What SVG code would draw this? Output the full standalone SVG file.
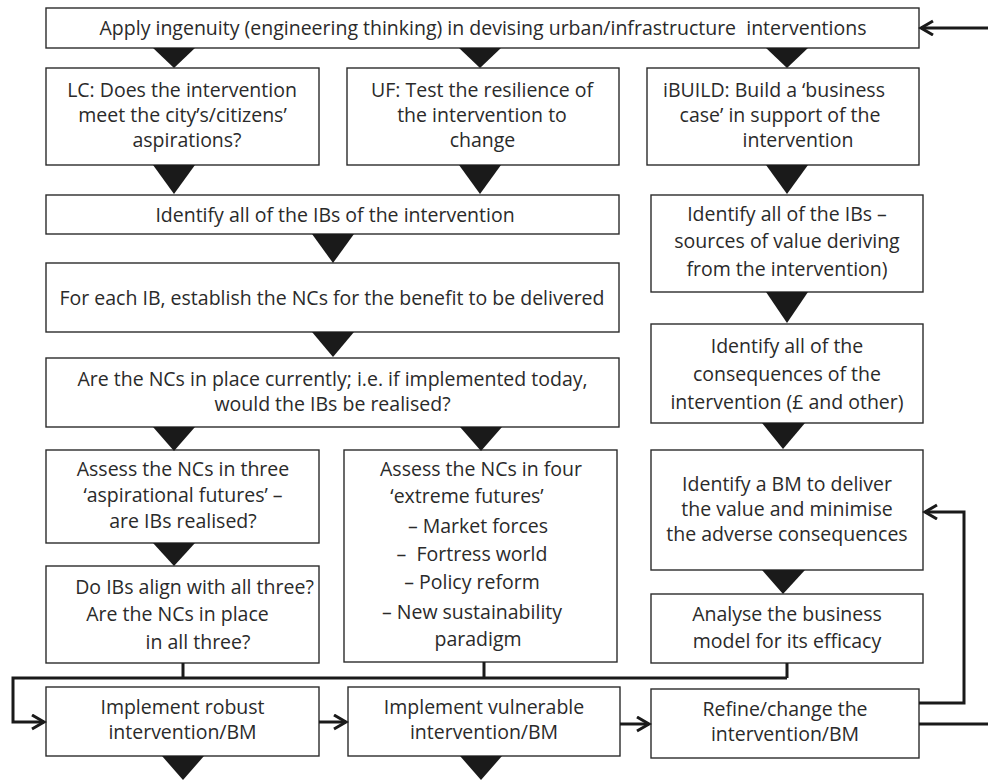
<svg xmlns="http://www.w3.org/2000/svg" width="988" height="780" viewBox="0 0 988 780">
<defs>
<style>
.b{fill:#fff;stroke:#2b2b2b;stroke-width:1.4}
.t{font-family:"Open Sans","Liberation Sans",sans-serif;font-size:19.5px;fill:#2a2a2a;text-anchor:middle}
.tri{fill:#1a1a1a}
.c{fill:none;stroke:#1a1a1a;stroke-width:3}
</style>
<marker id="ah" markerUnits="userSpaceOnUse" markerWidth="16" markerHeight="18" refX="13" refY="8" orient="auto">
<path d="M1,1 L13,8 L1,15" fill="none" stroke="#1a1a1a" stroke-width="3"/>
</marker>
</defs>
<rect width="988" height="780" fill="#fff"/>

<g id="n-top"><rect class="b" x="46" y="8" width="873" height="40"/>
<text class="t" x="483" y="35" xml:space="preserve">Apply ingenuity (engineering thinking) in devising urban/infrastructure  interventions</text></g>

<g id="n-lc"><rect class="b" x="46" y="68" width="273" height="97"/>
<text class="t" x="182" y="97">LC: Does the intervention</text>
<text class="t" x="182.5" y="122">meet the city’s/citizens’</text>
<text class="t" x="187" y="147">aspirations?</text></g>

<g id="n-uf"><rect class="b" x="347" y="68" width="272" height="97"/>
<text class="t" x="482" y="97">UF: Test the resilience of</text>
<text class="t" x="482" y="122">the intervention to</text>
<text class="t" x="482.5" y="147">change</text></g>

<g id="n-ibuild"><rect class="b" x="647" y="68" width="272" height="97"/>
<text class="t" x="774" y="97">iBUILD: Build a ‘business</text>
<text class="t" x="780" y="122">case’ in support of the</text>
<text class="t" x="798" y="147">intervention</text></g>

<g id="n-ibs"><rect class="b" x="46" y="195" width="573" height="39"/>
<text class="t" x="335" y="222">Identify all of the IBs of the intervention</text></g>

<g id="n-nc"><rect class="b" x="46" y="263" width="573" height="69"/>
<text class="t" x="332" y="305">For each IB, establish the NCs for the benefit to be delivered</text></g>

<g id="n-place"><rect class="b" x="46" y="358" width="573" height="69"/>
<text class="t" x="332.5" y="386">Are the NCs in place currently; i.e. if implemented today,</text>
<text class="t" x="332.5" y="411">would the IBs be realised?</text></g>

<g id="n-sources"><rect class="b" x="651" y="195" width="272" height="97"/>
<text class="t" x="787" y="221">Identify all of the IBs –</text>
<text class="t" x="787" y="248">sources of value deriving</text>
<text class="t" x="787" y="276">from the intervention)</text></g>

<g id="n-conseq"><rect class="b" x="651" y="324" width="272" height="99"/>
<text class="t" x="787" y="353">Identify all of the</text>
<text class="t" x="787" y="381">consequences of the</text>
<text class="t" x="787" y="409">intervention (£ and other)</text></g>

<g id="n-bm"><rect class="b" x="651" y="450" width="272" height="120"/>
<text class="t" x="787" y="491">Identify a BM to deliver</text>
<text class="t" x="787" y="516">the value and minimise</text>
<text class="t" x="787" y="541">the adverse consequences</text></g>

<g id="n-analyse"><rect class="b" x="651" y="594" width="272" height="69"/>
<text class="t" x="787" y="621">Analyse the business</text>
<text class="t" x="787" y="648">model for its efficacy</text></g>

<g id="n-three"><rect class="b" x="46" y="450" width="273" height="93"/>
<text class="t" x="183" y="476">Assess the NCs in three</text>
<text class="t" x="183" y="502">‘aspirational futures’ –</text>
<text class="t" x="183" y="528">are IBs realised?</text></g>

<g id="n-align"><rect class="b" x="46" y="566" width="273" height="97"/>
<text class="t" x="194.5" y="594">Do IBs align with all three?</text>
<text class="t" x="177.5" y="621">Are the NCs in place</text>
<text class="t" x="198" y="649">in all three?</text></g>

<g id="n-four"><rect class="b" x="344" y="450" width="273" height="212"/>
<text class="t" x="481" y="476">Assess the NCs in four</text>
<text class="t" x="467" y="503">‘extreme futures’</text>
<text class="t" x="478" y="533">– Market forces</text>
<text class="t" x="472" y="561" xml:space="preserve">–  Fortress world</text>
<text class="t" x="472" y="589">– Policy reform</text>
<text class="t" x="472" y="619">– New sustainability</text>
<text class="t" x="478" y="646">paradigm</text></g>

<g id="n-robust"><rect class="b" x="46" y="687" width="273" height="69"/>
<text class="t" x="182.5" y="714">Implement robust</text>
<text class="t" x="182.5" y="739">intervention/BM</text></g>

<g id="n-vuln"><rect class="b" x="348" y="687" width="272" height="69"/>
<text class="t" x="484" y="714">Implement vulnerable</text>
<text class="t" x="484" y="739">intervention/BM</text></g>

<g id="n-refine"><rect class="b" x="651" y="689" width="268" height="69"/>
<text class="t" x="785" y="716">Refine/change the</text>
<text class="t" x="785" y="741">intervention/BM</text></g>

<g id="connectors">
<polygon class="tri" points="153,48 195,48 174,68"/>
<polygon class="tri" points="459,48 501,48 480,68"/>
<polygon class="tri" points="766,48 808,48 787,68"/>
<polygon class="tri" points="153,165 195,165 174,194"/>
<polygon class="tri" points="459,165 501,165 480,194"/>
<polygon class="tri" points="766,165 808,165 787,194"/>
<polygon class="tri" points="312,234 354,234 333,263"/>
<polygon class="tri" points="312,332 354,332 333,357"/>
<polygon class="tri" points="766,292 808,292 787,323"/>
<polygon class="tri" points="762,423 805,423 783,449"/>
<polygon class="tri" points="762,570 805,570 783,594"/>
<polygon class="tri" points="153,427 195,427 174,451"/>
<polygon class="tri" points="460,427 502,427 481,451"/>
<polygon class="tri" points="153,543 195,543 174,566"/>
<polygon class="tri" points="162,756 204,756 183,780"/>
<polygon class="tri" points="460,756 502,756 481,780"/>
<path class="c" d="M183,663 V678 M484,662 V678 M787,663 V678"/>
<path class="c" d="M787,678 H13 V722 H44" marker-end="url(#ah)"/>
<path class="c" d="M319,722 H346" marker-end="url(#ah)"/>
<path class="c" d="M620,724 H649" marker-end="url(#ah)"/>
<path class="c" d="M919,703 H964 V512 H925" marker-end="url(#ah)"/>
<path class="c" d="M919,724 H988"/>
<path class="c" d="M988,28 H921" marker-end="url(#ah)"/>
</g>
</svg>
